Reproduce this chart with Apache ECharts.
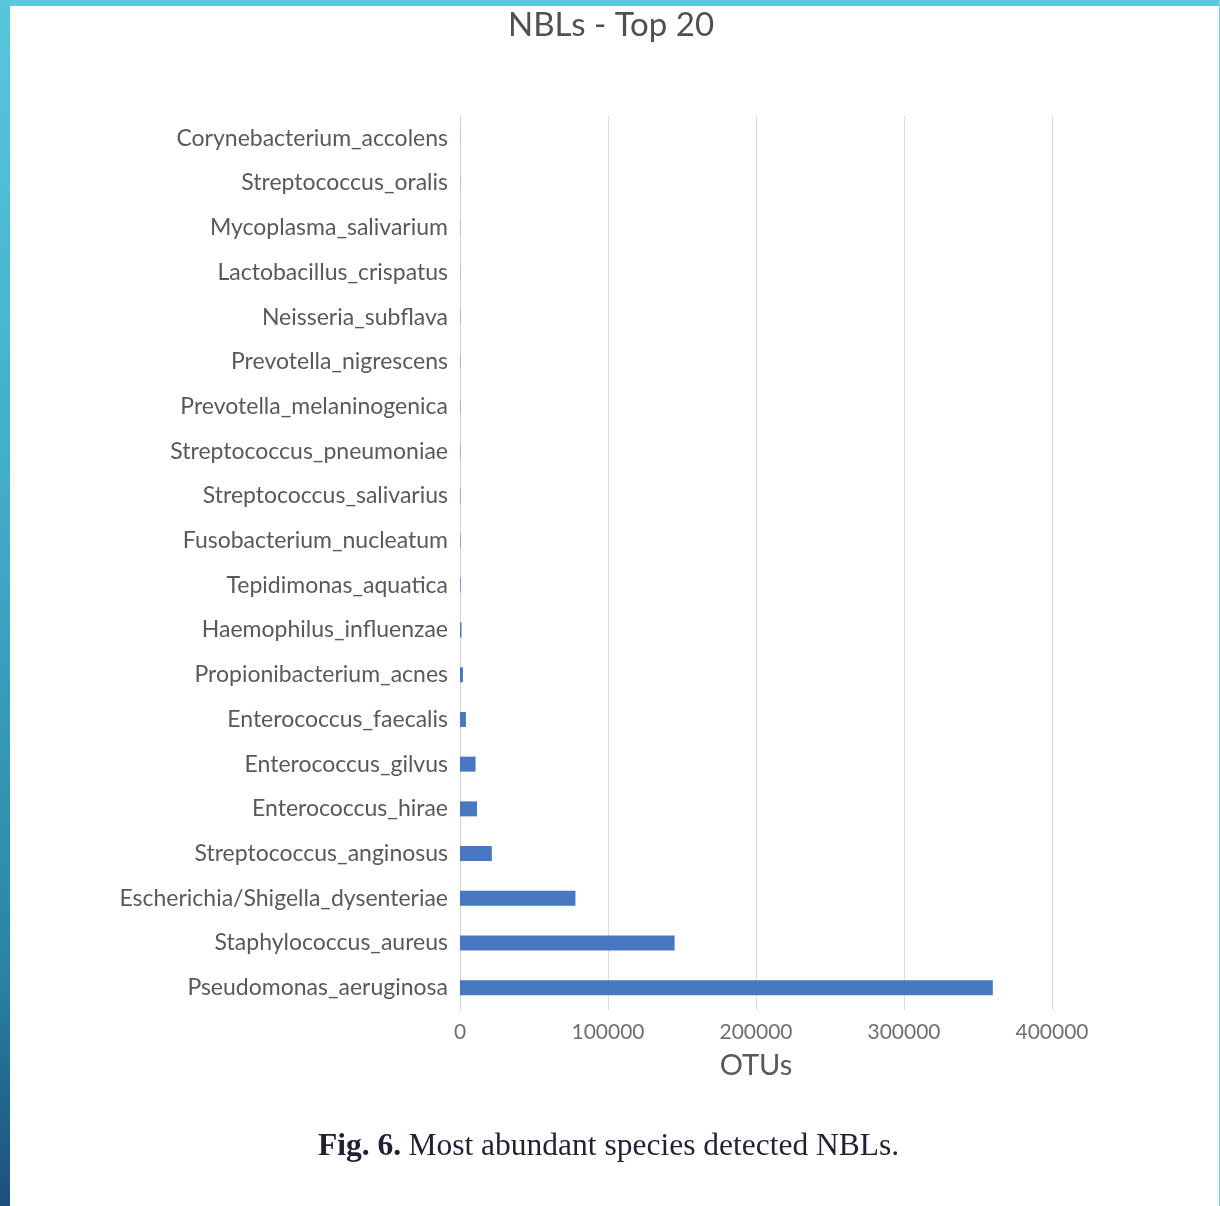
<!DOCTYPE html>
<html>
<head>
<meta charset="utf-8">
<style>
  html, body { margin: 0; padding: 0; background: #ffffff; }
  #chart { width: 1220px; height: 1206px; }
</style>
<script src="https://cdn.jsdelivr.net/npm/echarts@6/dist/echarts.min.js"></script>
</head>
<body>
<div id="chart"></div>
<script>
// Species, listed top to bottom
const species = [
  'Corynebacterium_accolens',
  'Streptococcus_oralis',
  'Mycoplasma_salivarium',
  'Lactobacillus_crispatus',
  'Neisseria_subflava',
  'Prevotella_nigrescens',
  'Prevotella_melaninogenica',
  'Streptococcus_pneumoniae',
  'Streptococcus_salivarius',
  'Fusobacterium_nucleatum',
  'Tepidimonas_aquatica',
  'Haemophilus_influenzae',
  'Propionibacterium_acnes',
  'Enterococcus_faecalis',
  'Enterococcus_gilvus',
  'Enterococcus_hirae',
  'Streptococcus_anginosus',
  'Escherichia/Shigella_dysenteriae',
  'Staphylococcus_aureus',
  'Pseudomonas_aeruginosa'
];

// OTU counts per species, same order
const otus = [
  100, 120, 140, 160, 180, 200, 220, 250, 280, 320,
  400, 1000, 2000, 4000, 10500, 11500, 21500, 78000, 145000, 360000
];

// Value axis ticks
const otuTicks = [0, 100000, 200000, 300000, 400000];

const chart = echarts.init(document.getElementById('chart'), null, { renderer: 'canvas' });

const labelFont = 'Lato, "Open Sans", sans-serif';

chart.setOption({
  backgroundColor: '#ffffff',
  animation: false,
  title: {
    text: 'NBLs - Top 20',
    left: 606,
    textAlign: 'center',
    top: 4,
    textStyle: {
      fontFamily: labelFont,
      fontSize: 33,
      fontWeight: 'normal',
      color: '#505050'
    }
  },
  grid: { left: 460, right: 168, top: 116, bottom: 196, containLabel: false },
  xAxis: {
    type: 'value',
    min: otuTicks[0],
    max: otuTicks[otuTicks.length - 1],
    interval: otuTicks[1] - otuTicks[0],
    name: 'OTUs',
    nameLocation: 'middle',
    nameGap: 41,
    nameTextStyle: { fontFamily: labelFont, fontSize: 29, color: '#595959' },
    axisLine: { show: false },
    axisTick: { show: false },
    axisLabel: {
      margin: 12,
      fontFamily: labelFont,
      fontSize: 21,
      color: '#707070',
      formatter: v => String(v)
    },
    splitLine: { show: true, lineStyle: { color: '#dcdcdc', width: 1 } }
  },
  yAxis: {
    type: 'category',
    data: species,
    inverse: true,
    axisLine: { show: true, lineStyle: { color: '#d4d4d4', width: 1 } },
    axisTick: { show: false },
    axisLabel: {
      margin: 12,
      fontFamily: labelFont,
      fontSize: 23,
      color: '#595959'
    },
    splitLine: { show: false }
  },
  series: [{
    type: 'bar',
    data: otus,
    barWidth: 15,
    itemStyle: { color: '#4677c0' }
  }],
  graphic: [
    // frame: top band
    {
      type: 'rect',
      shape: { x: 0, y: 0, width: 1220, height: 6 },
      style: { fill: '#5ac8dd' },
      silent: true
    },
    // frame: left band, fading from cyan to deep blue
    {
      type: 'rect',
      shape: { x: 0, y: 0, width: 10, height: 1206 },
      style: {
        fill: new echarts.graphic.LinearGradient(0, 0, 0, 1, [
          { offset: 0, color: '#58c7dc' },
          { offset: 0.45, color: '#3fa9c7' },
          { offset: 0.8, color: '#2a84a6' },
          { offset: 1, color: '#1b4f7b' }
        ])
      },
      silent: true
    },
    // frame: thin right edge
    {
      type: 'rect',
      shape: { x: 1219, y: 0, width: 1, height: 1206 },
      style: { fill: '#7fd0e0' },
      silent: true
    },
    // figure caption
    {
      type: 'text',
      left: 318,
      top: 1131,
      style: {
        text: '{b|Fig. 6.} {n|Most abundant species detected NBLs.}',
        rich: {
          b: { fontFamily: 'Liberation Serif, serif', fontSize: 31.5, fontWeight: 'bold', fill: '#1e2233' },
          n: { fontFamily: 'Liberation Serif, serif', fontSize: 31.5, fill: '#1e2233', padding: [0, 0, 0, 4] }
        }
      },
      silent: true
    }
  ]
});
</script>
</body>
</html>
